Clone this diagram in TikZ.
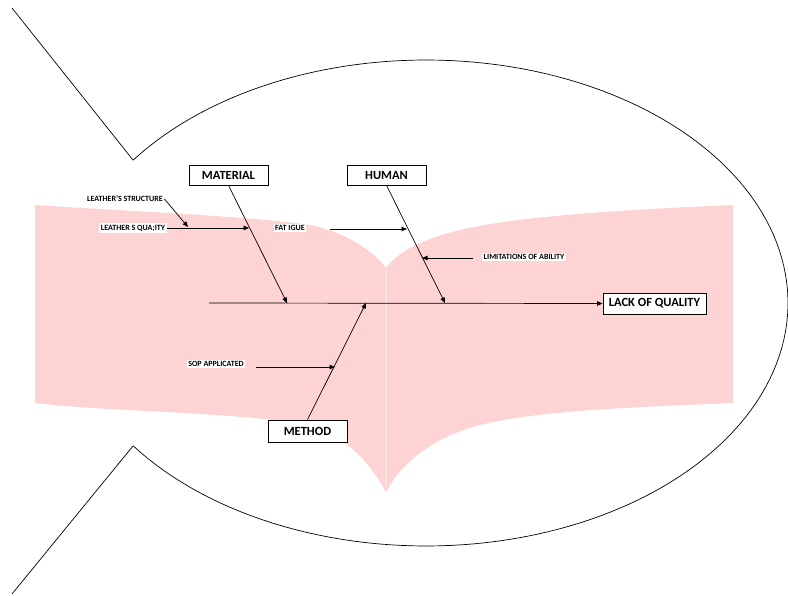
\documentclass[tikz,border=0pt]{standalone}
\usepackage{fontspec}
\setmainfont{Carlito}
\usetikzlibrary{arrows.meta,calc}
\definecolor{bandpink}{RGB}{253,211,212}
\begin{document}
\begin{tikzpicture}[x=1pt,y=-1pt,
  cat/.style={draw,fill=white,line width=0.8pt,minimum width=79pt,minimum height=20pt,inner sep=0pt,font=\fontsize{12.5}{13}\selectfont\bfseries},
  lbl/.style={fill=white,inner sep=1.5pt,font=\fontsize{8}{9}\selectfont\bfseries},
  arr/.style={-{Triangle[length=5.5pt,width=4.5pt]},line width=0.7pt},
  outline/.style={line width=0.7pt}]
\useasboundingbox (0,0) rectangle (788,596);
% pink band (open book)
\fill[bandpink] (35,205) .. controls (120,211) and (250,216) .. (310,225)
  .. controls (345,232) and (372,250) .. (386,268)
  .. controls (398,252) and (420,240) .. (460,230)
  .. controls (520,216) and (620,210) .. (733,205)
  -- (733,403)
  .. controls (640,407) and (540,410) .. (480,425)
  .. controls (430,438) and (400,465) .. (386,492)
  .. controls (365,455) and (340,430) .. (290,422)
  .. controls (220,412) and (100,411) .. (35,403) -- cycle;
\draw[white,opacity=0.35,line width=1.5pt] (386,270) -- (386,488);
% fish outline
\draw[outline] (12,8) -- (133,160);
\draw[outline] plot[domain=-144:144,samples=150] ({426+362*cos(\x)},{303+243*sin(\x)});
\draw[outline] (133,446) -- (12,594);
% category boxes
\node[cat] (mat) at (228.5,175) {MATERIAL};
\node[cat] (hum) at (386.5,175) {HUMAN};
\node[cat,minimum height=22pt] (met) at (307.5,431) {METHOD};
\node[cat,minimum width=103pt,minimum height=21pt] (loq) at (654.5,303.5) {LACK OF QUALITY};
% spine
\coordinate (sp0) at (209,303);
\coordinate (pm) at (287,303);
\coordinate (pmeth) at (366,303);
\coordinate (ph) at (445,303);
\draw[arr] (sp0) -- (loq.west);
\draw[arr] (mat.south) -- (pm);
\draw[arr] (hum.south) -- (ph);
\draw[arr] (met.north) -- (pmeth);
% cause labels
\node[lbl] (lq) at (133,228) {LEATHER S QUA;ITY};
\node[lbl] (ls) at (125,199) {LEATHER'S STRUCTURE};
\node[lbl] (fa) at (290,228) {FAT IGUE};
\node[lbl] (li) at (524,257) {LIMITATIONS OF ABILITY};
\node[lbl] (sop) at (216,364) {SOP APPLICATED};
% cause arrows
\coordinate (tq) at (249,228);
\coordinate (ts) at (188,227);
\coordinate (f0) at (330,229);
\coordinate (tf) at (407,229);
\coordinate (l0) at (473,258);
\coordinate (tl) at (422,258);
\coordinate (s0) at (256,367);
\coordinate (tsop) at (335,367);
\draw[arr] (lq.east) -- (tq);
\draw[arr] (ls.east) -- (ts);
\draw[arr] (f0) -- (tf);
\draw[arr] (l0) -- (tl);
\draw[arr] (s0) -- (tsop);
\end{tikzpicture}
\end{document}
